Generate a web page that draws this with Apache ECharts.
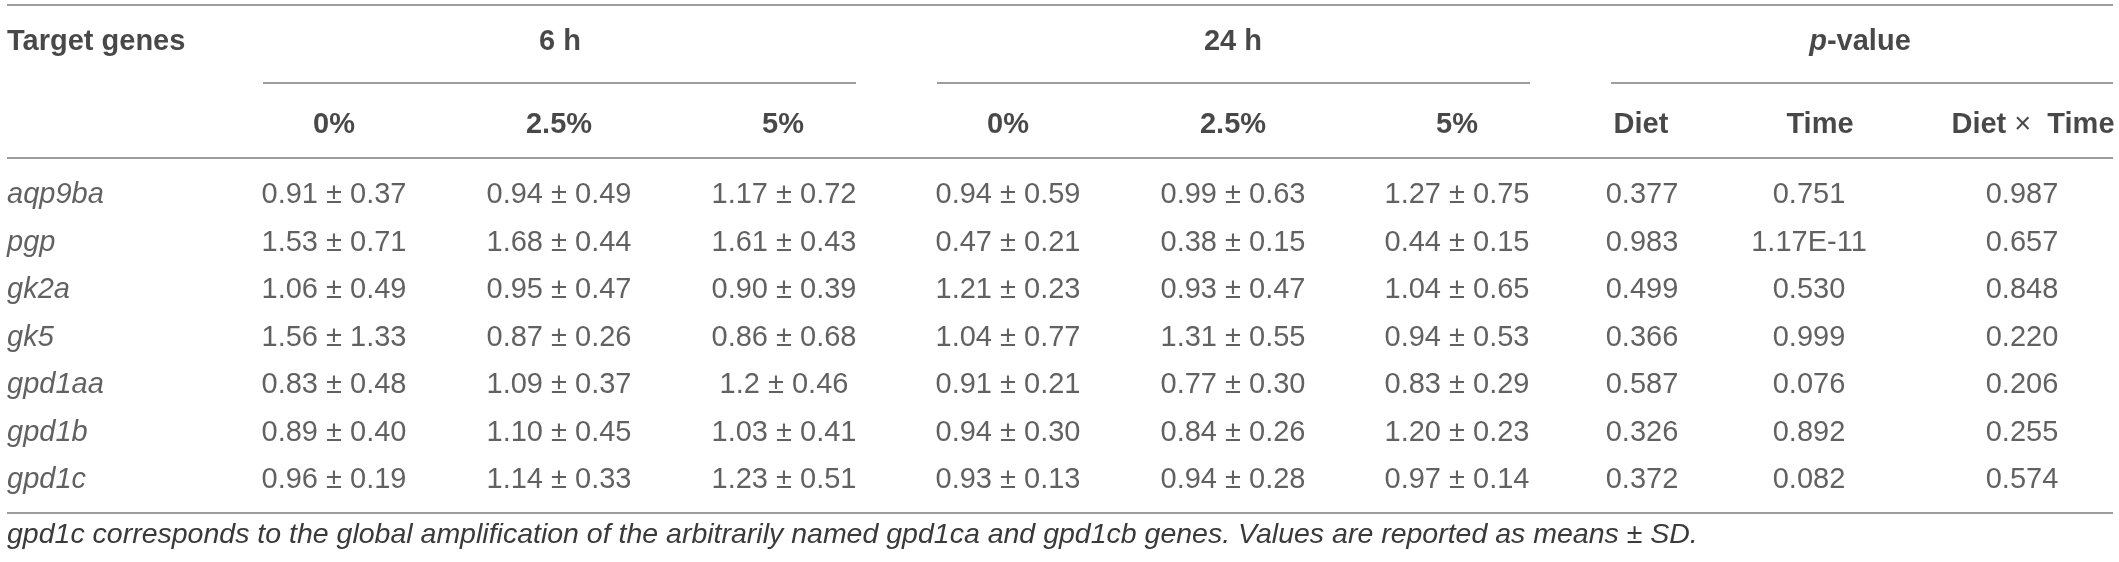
<!DOCTYPE html>
<html>
<head>
<meta charset="utf-8">
<title>Gene expression table</title>
<script src="https://cdn.jsdelivr.net/npm/echarts@6/dist/echarts.min.js"></script>
<style>
  html, body { margin: 0; padding: 0; background: #fff; }
  #main { width: 2119px; height: 562px; }
</style>
</head>
<body>
<div id="main"></div>
<script>
// table data
var genes = ['aqp9ba', 'pgp', 'gk2a', 'gk5', 'gpd1aa', 'gpd1b', 'gpd1c'];
var groupLabels = ['6 h', '24 h', '{i|p}-value'];
var subLabels = ['0%', '2.5%', '5%', '0%', '2.5%', '5%', 'Diet', 'Time', 'Diet {n|×}  Time'];

var mean6h0 = ['0.91', '1.53', '1.06', '1.56', '0.83', '0.89', '0.96'];
var sd6h0 = ['0.37', '0.71', '0.49', '1.33', '0.48', '0.40', '0.19'];
var mean6h25 = ['0.94', '1.68', '0.95', '0.87', '1.09', '1.10', '1.14'];
var sd6h25 = ['0.49', '0.44', '0.47', '0.26', '0.37', '0.45', '0.33'];
var mean6h5 = ['1.17', '1.61', '0.90', '0.86', '1.2', '1.03', '1.23'];
var sd6h5 = ['0.72', '0.43', '0.39', '0.68', '0.46', '0.41', '0.51'];
var mean24h0 = ['0.94', '0.47', '1.21', '1.04', '0.91', '0.94', '0.93'];
var sd24h0 = ['0.59', '0.21', '0.23', '0.77', '0.21', '0.30', '0.13'];
var mean24h25 = ['0.99', '0.38', '0.93', '1.31', '0.77', '0.84', '0.94'];
var sd24h25 = ['0.63', '0.15', '0.47', '0.55', '0.30', '0.26', '0.28'];
var mean24h5 = ['1.27', '0.44', '1.04', '0.94', '0.83', '1.20', '0.97'];
var sd24h5 = ['0.75', '0.15', '0.65', '0.53', '0.29', '0.23', '0.14'];
var pDiet = ['0.377', '0.983', '0.499', '0.366', '0.587', '0.326', '0.372'];
var pTime = ['0.751', '1.17E-11', '0.530', '0.999', '0.076', '0.892', '0.082'];
var pDietTime = ['0.987', '0.657', '0.848', '0.220', '0.206', '0.255', '0.574'];

var footnote = 'gpd1c corresponds to the global amplification of the arbitrarily named gpd1ca and gpd1cb genes. Values are reported as means \u00b1 SD.';

// layout (pixel columns on the hidden x axis)
var W = 2119;
var geneX = 7;
var groupX = [560, 1233, 1860];
var subX = [334, 559, 783, 1008, 1233, 1457, 1641, 1820, 2033];
var colX = [334, 559, 784, 1008, 1233, 1457, 1642, 1809, 2022];
var underlines = [[263, 856], [937, 1530], [1611, 2113]];

var FONT = '"Liberation Sans", Arial, Helvetica, sans-serif';
var SIZE = 29;
var lineColor = '#7d7d7d';
var bodyColor = '#3a3a3a';
var headColor = '#1a1a1a';

var columns = [
	[mean6h0, sd6h0], [mean6h25, sd6h25], [mean6h5, sd6h5],
	[mean24h0, sd24h0], [mean24h25, sd24h25], [mean24h5, sd24h5]
];
var pColumns = [pDiet, pTime, pDietTime];

function textSeries(name, xIdx, yIdx, data, label) {
	return {
		name: name,
		type: 'scatter',
		xAxisIndex: xIdx,
		yAxisIndex: yIdx,
		symbolSize: 1,
		itemStyle: { color: 'rgba(0,0,0,0)' },
		silent: true,
		data: data,
		label: Object.assign({
			show: true,
			position: 'inside',
			verticalAlign: 'middle',
			fontFamily: FONT,
			fontSize: SIZE,
			formatter: function (p) { return p.value[2]; }
		}, label)
	};
}

var cellData = [];
columns.forEach(function (col, j) {
	genes.forEach(function (g, i) {
		cellData.push([colX[j], g, col[0][i] + ' \u00b1 ' + col[1][i]]);
	});
});
pColumns.forEach(function (col, j) {
	genes.forEach(function (g, i) {
		cellData.push([colX[6 + j], g, col[i]]);
	});
});

var geneData = genes.map(function (g) { return [geneX, g, g]; });

var groupData = [[geneX, 'group', 'Target genes']].concat(
	groupLabels.map(function (t, j) { return [groupX[j], 'group', t]; })
);
var subData = subLabels.map(function (t, j) { return [subX[j], 'sub', t]; });

function hLine(x1, x2, y) {
	return {
		type: 'line',
		silent: true,
		shape: { x1: x1, y1: y, x2: x2, y2: y },
		style: { stroke: lineColor, lineWidth: 1.5 }
	};
}

var myChart = echarts.init(document.getElementById('main'));
var option = {
	animation: false,
	backgroundColor: '#ffffff',
	title: {
		text: footnote,
		left: geneX - 5,
		top: 516,
		textStyle: {
			fontFamily: FONT,
			fontSize: 28.5,
			fontStyle: 'italic',
			fontWeight: 'normal',
			color: bodyColor
		}
	},
	grid: [
		{ left: 0, right: 0, top: 0, height: 166 },
		{ left: 0, right: 0, top: 171.25, height: 332.5 }
	],
	xAxis: [
		{ type: 'value', gridIndex: 0, min: 0, max: W, show: false },
		{ type: 'value', gridIndex: 1, min: 0, max: W, show: false }
	],
	yAxis: [
		{ type: 'category', gridIndex: 0, data: ['group', 'sub'], inverse: true, show: false },
		{ type: 'category', gridIndex: 1, data: genes, inverse: true, show: false }
	],
	series: [
		textSeries('Group', 0, 0, groupData, {
			fontWeight: 'bold', color: headColor,
			align: 'center',
			rich: { i: { fontFamily: FONT, fontSize: SIZE, fontWeight: 'bold', fontStyle: 'italic', color: headColor } }
		}),
		textSeries('Sub', 0, 0, subData, {
			fontWeight: 'bold', color: headColor,
			align: 'center',
			rich: { n: { fontFamily: FONT, fontSize: SIZE, fontWeight: 'normal', color: headColor } }
		}),
		textSeries('Genes', 1, 1, geneData, {
			fontStyle: 'italic', color: bodyColor, align: 'left'
		}),
		textSeries('Cells', 1, 1, cellData, {
			color: bodyColor, align: 'center'
		})
	],
	graphic: [
		hLine(7, 2113, 5),
		hLine(underlines[0][0], underlines[0][1], 83),
		hLine(underlines[1][0], underlines[1][1], 83),
		hLine(underlines[2][0], underlines[2][1], 83),
		hLine(7, 2113, 158),
		hLine(7, 2113, 513)
	]
};

// "Target genes" sits left-aligned in the group row
option.series[0].data[0] = { value: groupData[0], label: { align: 'left' } };

myChart.setOption(option);
</script>
</body>
</html>
